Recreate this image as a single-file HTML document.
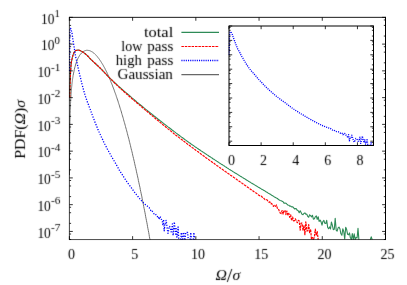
<!DOCTYPE html>
<html>
<head>
<meta charset="utf-8">
<title>PDF of vorticity</title>
<style>
html, body { margin: 0; padding: 0; background: #ffffff; }
body { width: 407px; height: 285px; overflow: hidden; font-family: "Liberation Serif", serif; }
svg { display: block; will-change: transform; }
svg text { font-family: "Liberation Serif", serif; fill: #000; }
</style>
</head>
<body>
<svg width="407" height="285" viewBox="0 0 407 285">
<defs><filter id="soft" x="0" y="0" width="407" height="285" filterUnits="userSpaceOnUse" color-interpolation-filters="sRGB"><feConvolveMatrix order="3" kernelMatrix="0.0113 0.0838 0.0113 0.0838 0.6196 0.0838 0.0113 0.0838 0.0113" divisor="1" edgeMode="duplicate" preserveAlpha="false"/></filter></defs>
<rect x="0" y="0" width="407" height="285" fill="#ffffff"/>
<g fill="none" stroke-width="1.2" stroke-linejoin="round">
<path d="M69.5 175.1 L69.5 159.0 L69.6 149.5 L69.6 142.9 L69.7 137.7 L69.7 133.4 L69.8 129.8 L69.8 126.7 L69.9 124.0 L69.9 121.6 L70.0 119.3 L70.0 117.3 L70.1 115.5 L70.1 113.7 L70.2 112.1 L70.2 110.7 L70.3 109.2 L70.3 107.9 L70.4 106.7 L70.4 105.5 L70.5 104.3 L70.5 103.3 L70.6 102.2 L70.6 101.3 L70.7 100.3 L70.7 99.4 L70.8 98.5 L70.8 97.7 L70.9 96.9 L70.9 96.1 L71.0 95.3 L71.0 94.6 L71.1 93.9 L71.1 93.2 L71.2 92.5 L71.2 91.9 L71.3 91.3 L71.3 90.7 L71.4 90.1 L71.4 89.5 L71.5 88.9 L71.5 88.4 L71.6 87.8 L71.6 87.3 L71.7 86.8 L71.7 86.3 L71.8 85.8 L71.8 85.3 L71.9 84.8 L71.9 84.4 L72.0 83.9 L72.0 83.5 L72.1 83.0 L72.1 82.6 L72.2 82.2 L72.2 81.8 L72.3 81.4 L72.3 81.0 L72.4 80.6 L72.4 80.2 L72.5 79.9 L72.5 79.5 L72.6 79.1 L72.6 78.8 L72.7 78.4 L72.7 78.1 L72.8 77.8 L72.8 77.4 L72.9 77.1 L72.9 76.8 L73.0 76.5 L73.0 76.1 L73.1 75.8 L73.1 75.5 L73.2 75.2 L73.6 73.1 L74.0 71.2 L74.3 69.5 L74.7 67.9 L75.1 66.5 L75.5 65.1 L75.8 63.9 L76.2 62.8 L76.6 61.7 L77.0 60.7 L77.4 59.8 L77.7 58.9 L78.1 58.1 L78.5 57.4 L78.9 56.7 L79.3 56.0 L79.6 55.4 L80.0 54.9 L80.4 54.4 L80.8 53.9 L81.2 53.4 L81.5 53.0 L81.9 52.7 L82.3 52.3 L82.7 52.0 L83.1 51.7 L83.4 51.5 L83.8 51.2 L84.2 51.0 L84.6 50.9 L85.0 50.7 L85.3 50.6 L85.7 50.5 L86.1 50.4 L86.5 50.3 L86.8 50.3 L87.2 50.3 L87.6 50.3 L88.0 50.3 L88.4 50.4 L88.7 50.5 L89.1 50.5 L89.5 50.6 L89.9 50.8 L90.3 50.9 L90.6 51.1 L91.0 51.3 L91.4 51.5 L91.8 51.7 L92.2 51.9 L92.5 52.1 L92.9 52.4 L93.3 52.7 L93.7 53.0 L94.1 53.3 L94.4 53.6 L94.8 54.0 L95.2 54.3 L95.6 54.7 L96.0 55.1 L96.3 55.5 L96.7 55.9 L97.1 56.4 L97.5 56.8 L97.8 57.3 L98.2 57.8 L98.6 58.3 L99.0 58.8 L99.4 59.3 L99.7 59.9 L100.1 60.4 L100.5 61.0 L100.9 61.6 L101.3 62.2 L101.6 62.8 L102.0 63.4 L102.4 64.0 L102.8 64.7 L103.2 65.3 L103.5 66.0 L103.9 66.7 L104.3 67.4 L104.7 68.1 L105.1 68.8 L105.4 69.6 L105.8 70.3 L106.2 71.1 L106.6 71.9 L107.0 72.7 L107.3 73.5 L107.7 74.3 L108.1 75.1 L108.5 76.0 L108.8 76.9 L109.2 77.7 L109.6 78.6 L110.0 79.5 L110.4 80.4 L110.7 81.3 L111.1 82.3 L111.5 83.2 L111.9 84.2 L112.3 85.1 L112.6 86.1 L113.0 87.1 L113.4 88.1 L113.8 89.1 L114.2 90.2 L114.5 91.2 L114.9 92.3 L115.3 93.3 L115.7 94.4 L116.1 95.5 L116.4 96.6 L116.8 97.7 L117.2 98.9 L117.6 100.0 L118.0 101.1 L118.3 102.3 L118.7 103.5 L119.1 104.7 L119.5 105.9 L119.8 107.1 L120.2 108.3 L120.6 109.5 L121.0 110.8 L121.4 112.0 L121.7 113.3 L122.1 114.6 L122.5 115.9 L122.9 117.2 L123.3 118.5 L123.6 119.8 L124.0 121.2 L124.4 122.5 L124.8 123.9 L125.2 125.3 L125.5 126.6 L125.9 128.0 L126.3 129.4 L126.7 130.9 L127.1 132.3 L127.4 133.7 L127.8 135.2 L128.2 136.7 L128.6 138.1 L129.0 139.6 L129.3 141.1 L129.7 142.6 L130.1 144.2 L130.5 145.7 L130.8 147.2 L131.2 148.8 L131.6 150.4 L132.0 151.9 L132.4 153.5 L132.7 155.1 L133.1 156.7 L133.5 158.4 L133.9 160.0 L134.3 161.7 L134.6 163.3 L135.0 165.0 L135.4 166.7 L135.8 168.4 L136.2 170.1 L136.5 171.8 L136.9 173.5 L137.3 175.2 L137.7 177.0 L138.1 178.7 L138.4 180.5 L138.8 182.3 L139.2 184.1 L139.6 185.9 L140.0 187.7 L140.3 189.5 L140.7 191.4 L141.1 193.2 L141.5 195.1 L141.9 196.9 L142.2 198.8 L142.6 200.7 L143.0 202.6 L143.4 204.5 L143.7 206.5 L144.1 208.4 L144.5 210.3 L144.9 212.3 L145.3 214.3 L145.6 216.3 L146.0 218.3 L146.4 220.3 L146.8 222.3 L147.2 224.3 L147.5 226.3 L147.9 228.4 L148.3 230.4 L148.7 232.5 L149.1 234.6 L149.4 236.7 L149.8 238.8 L150.2 239.6" stroke="#686868" stroke-width="0.95"/>
<path d="M69.8 97.6 L70.0 86.4 L70.3 78.5 L70.5 72.4 L70.8 68.2 L71.0 65.4 L71.3 63.1 L71.5 61.3 L71.8 59.9 L72.1 58.7 L72.3 57.6 L72.6 56.6 L72.8 55.7 L73.1 54.9 L73.3 54.2 L73.6 53.6 L73.8 53.1 L74.1 52.6 L74.3 52.1 L74.6 51.7 L74.8 51.4 L75.1 51.1 L75.3 50.8 L75.6 50.7 L75.8 50.6 L76.1 50.5 L76.4 50.4 L76.6 50.3 L76.9 50.3 L77.1 50.2 L77.4 50.2 L77.6 50.1 L77.9 50.1 L78.1 50.1 L78.4 50.1 L78.6 50.1 L78.9 50.2 L79.1 50.2 L79.4 50.3 L79.6 50.4 L79.9 50.5 L80.1 50.6 L80.4 50.7 L80.7 50.9 L80.9 51.0 L81.2 51.1 L81.4 51.3 L81.7 51.4 L81.9 51.5 L82.0 51.6 L83.0 52.1 L83.9 52.8 L84.9 53.5 L85.8 54.3 L86.8 55.1 L87.7 56.0 L88.7 57.0 L89.6 58.1 L90.6 59.1 L91.5 60.0 L92.5 60.9 L93.4 61.8 L94.4 62.7 L95.3 63.5 L96.3 64.4 L97.2 65.3 L98.2 66.2 L99.1 67.1 L100.1 68.0 L101.0 69.0 L102.0 69.9 L102.9 70.9 L103.9 71.9 L104.8 72.9 L105.8 73.9 L106.7 74.9 L107.6 75.9 L108.6 76.9 L109.5 77.8 L110.5 78.7 L111.4 79.6 L112.4 80.5 L113.3 81.4 L114.3 82.3 L115.2 83.2 L116.2 84.0 L117.1 84.9 L118.1 85.8 L119.0 86.6 L120.0 87.5 L120.9 88.3 L121.9 89.1 L122.8 90.0 L123.8 90.8 L124.7 91.6 L125.7 92.4 L126.6 93.2 L127.6 94.0 L128.5 94.8 L129.5 95.6 L130.4 96.4 L131.4 97.3 L132.3 98.1 L133.3 98.9 L134.2 99.7 L135.1 100.5 L136.1 101.3 L137.0 102.1 L138.0 102.9 L138.9 103.7 L139.9 104.5 L140.8 105.2 L141.8 106.0 L142.7 106.8 L143.7 107.6 L144.6 108.4 L145.6 109.1 L146.5 109.9 L147.5 110.7 L148.4 111.4 L149.4 112.2 L150.3 112.9 L151.3 113.7 L152.2 114.5 L153.2 115.2 L154.1 116.0 L155.1 116.7 L156.0 117.5 L157.0 118.2 L157.9 119.0 L158.9 119.7 L159.8 120.5 L160.8 121.2 L161.7 121.9 L162.6 122.7 L163.6 123.4 L164.5 124.2 L165.5 124.9 L166.4 125.6 L167.4 126.4 L168.3 127.1 L169.3 127.8 L170.2 128.5 L171.2 129.3 L172.1 130.0 L173.1 130.7 L174.0 131.4 L175.0 132.1 L175.9 132.9 L176.9 133.6 L177.8 134.3 L178.8 135.0 L179.7 135.7 L180.7 136.4 L181.6 137.1 L182.6 137.8 L183.5 138.5 L184.5 139.2 L185.4 139.9 L186.4 140.6 L187.3 141.3 L188.3 142.0 L189.2 142.6 L190.2 143.3 L191.1 144.0 L192.0 144.6 L193.0 145.3 L193.9 145.9 L194.9 146.6 L195.8 147.2 L196.8 147.9 L197.7 148.5 L198.7 149.2 L199.6 149.8 L200.6 150.5 L201.5 151.1 L202.5 151.7 L203.4 152.4 L204.4 153.0 L205.3 153.6 L206.3 154.3 L207.2 154.9 L208.2 155.5 L209.1 156.2 L210.1 156.8 L211.0 157.4 L212.0 158.0 L212.9 158.7 L213.9 159.3 L214.8 159.9 L215.8 160.5 L216.7 161.1 L217.7 161.7 L218.6 162.4 L219.5 163.0 L220.5 163.6 L221.4 164.2 L222.4 164.8 L223.3 165.4 L224.3 166.0 L225.2 166.6 L226.2 167.2 L227.1 167.9 L228.1 168.5 L229.0 169.1 L230.0 169.7 L230.9 170.3 L231.9 170.9 L232.8 171.5 L233.8 172.1 L234.7 172.7 L235.7 173.2 L236.6 173.8 L237.6 174.4 L238.5 175.0 L239.5 175.6 L240.4 176.2 L241.4 176.8 L242.3 177.4 L243.3 178.0 L244.2 178.6 L245.2 179.1 L246.1 179.7 L247.0 180.3 L248.0 180.9 L248.9 181.5 L249.9 182.0 L250.8 182.6 L251.8 183.2 L252.7 183.8 L253.7 184.3 L254.6 184.9 L255.6 185.5 L256.5 186.0 L257.5 186.6 L258.4 187.2 L259.4 187.7 L260.3 188.3 L261.3 188.9 L262.2 189.4 L263.2 190.0 L264.1 190.6 L265.1 191.1 L266.0 191.7 L267.0 192.3 L267.9 192.9 L268.9 193.4 L269.8 194.1 L270.8 194.6 L271.7 195.3 L272.7 195.8 L273.6 196.4 L274.5 197.0 L275.5 197.5 L276.4 198.1 L277.4 198.5 L278.3 199.3 L279.3 200.0 L280.2 200.4 L281.2 200.8 L282.1 201.2 L283.1 201.8 L284.0 203.1 L285.0 203.0 L285.9 203.2 L286.9 204.2 L287.8 205.0 L288.8 205.2 L289.7 206.1 L290.7 206.1 L291.6 206.9 L292.6 206.7 L293.5 207.7 L294.5 208.9 L295.4 208.6 L296.4 208.9 L297.3 210.4 L298.3 210.8 L299.2 212.8 L300.2 210.7 L301.1 212.4 L302.0 214.3 L303.0 214.6 L303.9 213.5 L304.9 212.9 L305.8 214.3 L306.8 214.1 L307.7 216.4 L308.7 217.2 L309.6 214.8 L310.6 215.7 L311.5 216.9 L312.5 215.3 L313.4 219.2 L314.4 218.8 L315.3 216.8 L316.3 215.8 L317.2 219.4 L318.2 216.7 L319.1 221.5 L320.1 220.1 L321.0 221.6 L322.0 225.1 L322.9 221.5 L323.9 220.3 L324.8 223.3 L325.8 223.5 L326.7 220.3 L327.7 227.5 L328.6 228.7 L329.6 226.9 L330.5 229.0 L331.4 222.0 L332.4 225.5 L333.3 229.6 L334.3 229.3 L335.2 218.3 L336.2 230.2 L337.1 231.2 L338.1 227.9 L339.0 227.1 L340.0 229.0 L340.9 233.8 L341.9 235.3 L342.8 228.7 L343.8 231.7 L344.7 238.9 L345.7 227.2 L346.6 229.3 L347.6 234.3 L348.5 234.8 L349.5 232.9 L350.4 237.8 L351.4 239.6 M351.4 239.6 L352.3 233.5 L353.3 239.6 M353.3 239.6 L354.2 233.9 L355.2 239.6 M355.2 239.6 L356.1 237.4 L357.1 238.0 L358.0 228.2 L358.9 239.6 M370.3 239.6 L371.2 236.8 L372.2 239.6" stroke="#2e8b57" stroke-width="1.1"/>
<path d="M69.8 97.6 L70.0 86.4 L70.3 78.5 L70.5 72.4 L70.8 68.2 L71.0 65.4 L71.3 63.1 L71.5 61.3 L71.8 59.9 L72.1 58.7 L72.3 57.6 L72.6 56.6 L72.8 55.7 L73.1 54.9 L73.3 54.2 L73.6 53.6 L73.8 53.1 L74.1 52.6 L74.3 52.1 L74.6 51.7 L74.8 51.4 L75.1 51.1 L75.3 50.8 L75.6 50.7 L75.8 50.6 L76.1 50.5 L76.4 50.4 L76.6 50.3 L76.9 50.3 L77.1 50.2 L77.4 50.2 L77.6 50.1 L77.9 50.1 L78.1 50.1 L78.4 50.1 L78.6 50.1 L78.9 50.2 L79.1 50.2 L79.4 50.3 L79.6 50.4 L79.9 50.5 L80.1 50.6 L80.4 50.7 L80.7 50.9 L80.9 51.0 L81.2 51.1 L81.4 51.3 L81.7 51.4 L81.9 51.5 L82.0 51.6 L83.0 52.1 L83.9 52.8 L84.9 53.5 L85.8 54.3 L86.8 55.1 L87.7 56.0 L88.7 57.0 L89.6 58.1 L90.6 59.1 L91.5 60.0 L92.5 60.9 L93.4 61.8 L94.4 62.7 L95.3 63.5 L96.3 64.4 L97.2 65.3 L98.2 66.2 L99.1 67.1 L100.1 68.0 L101.0 69.0 L102.0 69.9 L102.9 70.9 L103.9 71.9 L104.8 72.9 L105.8 73.9 L106.7 74.9 L107.6 75.9 L108.6 76.9 L109.5 77.8 L110.5 78.8 L111.4 79.7 L112.4 80.7 L113.3 81.6 L114.3 82.5 L115.2 83.5 L116.2 84.4 L117.1 85.3 L118.1 86.2 L119.0 87.1 L120.0 88.0 L120.9 88.9 L121.9 89.7 L122.8 90.6 L123.8 91.5 L124.7 92.3 L125.7 93.2 L126.6 94.0 L127.6 94.8 L128.5 95.7 L129.5 96.5 L130.4 97.3 L131.4 98.1 L132.3 99.0 L133.3 99.8 L134.2 100.6 L135.1 101.4 L136.1 102.2 L137.0 103.0 L138.0 103.8 L138.9 104.6 L139.9 105.4 L140.8 106.2 L141.8 107.0 L142.7 107.8 L143.7 108.6 L144.6 109.4 L145.6 110.2 L146.5 111.0 L147.5 111.8 L148.4 112.6 L149.4 113.4 L150.3 114.2 L151.3 115.0 L152.2 115.8 L153.2 116.6 L154.1 117.4 L155.1 118.2 L156.0 119.0 L157.0 119.8 L157.9 120.5 L158.9 121.3 L159.8 122.1 L160.8 122.9 L161.7 123.7 L162.6 124.5 L163.6 125.2 L164.5 126.0 L165.5 126.8 L166.4 127.6 L167.4 128.3 L168.3 129.1 L169.3 129.9 L170.2 130.6 L171.2 131.4 L172.1 132.1 L173.1 132.9 L174.0 133.7 L175.0 134.4 L175.9 135.2 L176.9 135.9 L177.8 136.6 L178.8 137.4 L179.7 138.1 L180.7 138.8 L181.6 139.6 L182.6 140.3 L183.5 141.0 L184.5 141.7 L185.4 142.4 L186.4 143.2 L187.3 143.9 L188.3 144.6 L189.2 145.3 L190.2 146.0 L191.1 146.7 L192.0 147.4 L193.0 148.1 L193.9 148.8 L194.9 149.5 L195.8 150.2 L196.8 150.9 L197.7 151.6 L198.7 152.3 L199.6 153.0 L200.6 153.7 L201.5 154.4 L202.5 155.1 L203.4 155.8 L204.4 156.5 L205.3 157.2 L206.3 157.9 L207.2 158.5 L208.2 159.2 L209.1 159.9 L210.1 160.6 L211.0 161.3 L212.0 162.0 L212.9 162.7 L213.9 163.3 L214.8 164.0 L215.8 164.7 L216.7 165.4 L217.7 166.1 L218.6 166.7 L219.5 167.4 L220.5 168.1 L221.4 168.8 L222.4 169.4 L223.3 170.1 L224.3 170.8 L225.2 171.5 L226.2 172.1 L227.1 172.8 L228.1 173.4 L229.0 174.1 L230.0 174.8 L230.9 175.4 L231.9 176.1 L232.8 176.7 L233.8 177.4 L234.7 178.1 L235.7 178.7 L236.6 179.4 L237.6 180.1 L238.5 180.7 L239.5 181.4 L240.4 182.1 L241.4 182.7 L242.3 183.4 L243.3 184.1 L244.2 184.7 L245.2 185.4 L246.1 186.1 L247.0 186.7 L248.0 187.4 L248.9 188.1 L249.9 188.8 L250.8 189.4 L251.8 190.1 L252.7 190.7 L253.7 191.5 L254.6 192.1 L255.6 192.7 L256.5 193.2 L257.5 194.1 L258.4 194.9 L259.4 195.5 L260.3 196.2 L261.3 196.2 L262.2 197.1 L263.2 197.6 L264.1 198.6 L265.1 199.7 L266.0 199.5 L267.0 199.8 L267.9 201.1 L268.9 202.1 L269.8 201.9 L270.8 203.7 L271.7 203.4 L272.7 205.4 L273.6 206.3 L274.5 205.4 L275.5 206.3 L276.4 205.0 L277.4 208.4 L278.3 208.6 L279.3 211.0 L280.2 212.9 L281.2 213.6 L282.1 210.5 L283.1 214.2 L284.0 210.5 L285.0 210.5 L285.9 214.6 L286.9 211.0 L287.8 214.9 L288.8 213.3 L289.7 217.3 L290.7 214.9 L291.6 220.8 L292.6 217.0 L293.5 220.9 L294.5 220.7 L295.4 218.8 L296.4 221.1 L297.3 222.7 L298.3 220.4 L299.2 220.7 L300.2 230.2 L301.1 223.0 L302.0 223.1 L303.0 230.1 L303.9 225.7 L304.9 234.6 L305.8 221.8 L306.8 230.9 L307.7 230.8 L308.7 224.5 L309.6 232.7 L310.6 229.1 L311.5 239.6 L312.5 237.6 L313.4 239.6 M313.4 239.6 L314.4 236.9 L315.3 229.2 L316.3 235.4 L317.2 231.6 L318.2 239.6" stroke="#ff0000" stroke-dasharray="2.5 0.9"/>
<path d="M69.6 70.9 L69.8 38.8 L70.0 29.1 L70.3 27.8 L70.5 28.1 L70.8 28.5 L71.0 29.2 L71.3 30.0 L71.5 31.0 L71.8 32.1 L72.1 33.5 L72.3 35.2 L72.6 37.0 L72.8 38.8 L73.1 40.6 L73.3 42.2 L73.6 43.8 L73.8 45.4 L74.1 46.9 L74.3 48.5 L74.6 50.0 L74.8 51.6 L75.1 53.2 L75.3 54.8 L75.6 56.3 L75.8 57.6 L76.1 58.9 L76.4 60.0 L76.6 61.1 L76.9 62.2 L77.1 63.3 L77.4 64.4 L77.6 65.5 L77.9 66.7 L78.1 67.8 L78.4 69.0 L78.6 70.1 L78.9 71.2 L79.1 72.4 L79.4 73.4 L79.6 74.5 L79.9 75.5 L80.1 76.6 L80.4 77.6 L80.7 78.7 L80.9 79.7 L81.2 80.7 L81.4 81.7 L81.7 82.7 L81.9 83.7 L82.0 84.2 L82.7 86.6 L83.3 89.0 L83.9 91.3 L84.6 93.5 L85.2 95.6 L85.8 97.6 L86.5 99.4 L87.1 101.2 L87.7 102.9 L88.4 104.5 L89.0 106.2 L89.6 107.8 L90.3 109.5 L90.9 111.3 L91.5 113.0 L92.2 114.8 L92.8 116.5 L93.4 118.2 L94.1 119.8 L94.7 121.4 L95.3 123.0 L96.0 124.6 L96.6 126.1 L97.2 127.6 L97.8 129.1 L98.5 130.5 L99.1 132.0 L99.7 133.4 L100.4 134.8 L101.0 136.2 L101.6 137.5 L102.3 138.8 L102.9 140.2 L103.5 141.5 L104.2 142.8 L104.8 144.1 L105.4 145.3 L106.1 146.6 L106.7 147.8 L107.3 149.0 L108.0 150.2 L108.6 151.3 L109.2 152.5 L109.9 153.6 L110.5 154.7 L111.1 155.8 L111.8 156.9 L112.4 158.0 L113.0 159.1 L113.7 160.1 L114.3 161.2 L114.9 162.3 L115.6 163.4 L116.2 164.5 L116.8 165.6 L117.4 166.8 L118.1 167.9 L118.7 169.0 L119.3 170.1 L120.0 171.1 L120.6 172.1 L121.2 173.1 L121.9 174.1 L122.5 175.1 L123.1 176.1 L123.8 177.1 L124.4 178.0 L125.0 179.0 L125.7 179.9 L126.3 180.8 L126.9 181.8 L127.6 182.7 L128.2 183.6 L128.8 184.5 L129.5 185.3 L130.1 186.2 L130.7 187.1 L131.4 187.9 L132.0 188.8 L132.6 189.6 L133.3 190.5 L133.9 191.3 L134.5 192.2 L135.1 193.0 L135.8 193.8 L136.4 194.6 L137.0 195.4 L137.7 196.2 L138.3 197.0 L138.9 197.8 L139.6 198.6 L140.2 199.3 L140.8 200.1 L141.5 200.8 L142.1 201.5 L142.7 202.1 L143.4 202.8 L144.0 203.4 L144.6 204.0 L145.3 204.6 L145.9 205.1 L146.5 205.7 L147.2 206.0 L147.8 206.7 L148.4 207.4 L149.1 207.7 L149.7 208.6 L150.3 209.6 L151.0 210.9 L151.6 210.4 L152.2 211.1 L152.9 211.9 L153.5 212.9 L154.1 213.9 L154.7 213.8 L155.4 213.8 L156.0 214.9 L156.6 215.5 L157.3 216.7 L157.9 216.0 L158.5 216.8 L159.2 219.5 L159.8 216.7 L160.4 217.1 L161.1 217.5 L161.7 220.8 L162.3 221.6 L163.0 225.4 L163.6 219.4 L164.2 230.8 L164.9 224.7 L165.5 225.1 L166.1 220.3 L166.8 224.7 L167.4 230.1 L168.0 233.4 L168.7 230.1 L169.3 226.2 L169.9 226.9 L170.6 228.8 L171.2 231.9 L171.8 229.9 L172.4 223.9 L173.1 235.6 L173.7 230.0 L174.3 221.9 L175.0 228.1 L175.6 234.1 L176.2 228.7 L176.9 237.1 L177.5 234.2 L178.1 227.0 L178.8 239.6 M180.7 239.6 L181.3 232.5 L181.9 239.6 M182.6 239.6 L183.2 232.5 L183.8 232.5 L184.5 239.6 M185.1 239.6 L185.7 232.5 L186.4 232.5 L187.0 232.5 L187.6 232.5 L188.3 239.6 M190.2 239.6 L190.8 232.5 L191.4 239.6 M193.3 239.6 L193.9 232.5 L194.6 239.6" stroke="#0000ff" stroke-dasharray="1.2 1.5" stroke-width="1.3"/>
<path d="M181.4 32.45 H219" stroke="#2e8b57"/>
<path d="M181.4 46.48 H219" stroke="#ff0000" stroke-dasharray="2.5 0.9"/>
<path d="M181.4 60.51 H219" stroke="#0000ff" stroke-dasharray="1.1 1.1" stroke-width="1.3"/>
<path d="M181.4 74.54 H219" stroke="#686868"/>
</g>
<rect x="229.0" y="26.0" width="144.5" height="119.5" fill="#ffffff"/>
<g fill="none" stroke-width="1.2" stroke-linejoin="round">
<path d="M229.2 54.8 L229.5 37.5 L229.8 32.3 L230.1 31.6 L230.4 31.8 L230.8 32.0 L231.1 32.4 L231.4 32.8 L231.7 33.4 L232.1 33.9 L232.4 34.7 L232.7 35.6 L233.0 36.6 L233.3 37.6 L233.7 38.5 L234.0 39.4 L234.3 40.2 L234.6 41.1 L234.9 41.9 L235.3 42.7 L235.6 43.6 L235.9 44.4 L236.2 45.3 L236.5 46.1 L236.9 46.9 L237.2 47.7 L237.5 48.3 L237.8 49.0 L238.2 49.6 L238.5 50.2 L238.8 50.7 L239.1 51.3 L239.4 51.9 L239.8 52.5 L240.1 53.1 L240.4 53.8 L240.7 54.4 L241.0 55.0 L241.4 55.6 L241.7 56.2 L242.0 56.8 L242.3 57.3 L242.6 57.9 L243.0 58.4 L243.3 59.0 L243.6 59.5 L243.9 60.1 L244.3 60.6 L244.6 61.2 L244.9 61.7 L245.1 62.0 L245.9 63.3 L246.7 64.6 L247.5 65.8 L248.3 67.0 L249.1 68.1 L249.9 69.2 L250.7 70.2 L251.5 71.1 L252.3 72.0 L253.1 72.9 L253.9 73.8 L254.7 74.7 L255.5 75.6 L256.3 76.5 L257.1 77.5 L257.9 78.4 L258.7 79.4 L259.5 80.3 L260.3 81.1 L261.1 82.0 L261.9 82.8 L262.7 83.7 L263.5 84.5 L264.3 85.3 L265.1 86.1 L265.9 86.9 L266.7 87.7 L267.5 88.4 L268.3 89.2 L269.1 89.9 L269.9 90.7 L270.7 91.4 L271.5 92.1 L272.4 92.8 L273.2 93.5 L274.0 94.2 L274.8 94.9 L275.6 95.5 L276.4 96.2 L277.2 96.8 L278.0 97.5 L278.8 98.1 L279.6 98.7 L280.4 99.3 L281.2 99.9 L282.0 100.5 L282.8 101.1 L283.6 101.7 L284.4 102.2 L285.2 102.8 L286.0 103.4 L286.8 104.0 L287.6 104.6 L288.4 105.2 L289.2 105.8 L290.0 106.4 L290.8 107.0 L291.6 107.6 L292.4 108.2 L293.2 108.7 L294.0 109.3 L294.8 109.8 L295.6 110.4 L296.4 110.9 L297.2 111.4 L298.0 111.9 L298.8 112.5 L299.6 113.0 L300.4 113.5 L301.3 114.0 L302.1 114.5 L302.9 114.9 L303.7 115.4 L304.5 115.9 L305.3 116.4 L306.1 116.9 L306.9 117.3 L307.7 117.8 L308.5 118.2 L309.3 118.7 L310.1 119.2 L310.9 119.6 L311.7 120.1 L312.5 120.5 L313.3 120.9 L314.1 121.4 L314.9 121.8 L315.7 122.3 L316.5 122.7 L317.3 123.1 L318.1 123.5 L318.9 123.9 L319.7 124.3 L320.5 124.7 L321.3 125.1 L322.1 125.4 L322.9 125.8 L323.7 126.1 L324.5 126.4 L325.3 126.7 L326.1 127.0 L326.9 127.3 L327.7 127.5 L328.5 127.9 L329.3 128.3 L330.2 128.4 L331.0 128.9 L331.8 129.4 L332.6 130.1 L333.4 129.9 L334.2 130.3 L335.0 130.6 L335.8 131.2 L336.6 131.7 L337.4 131.7 L338.2 131.7 L339.0 132.3 L339.8 132.6 L340.6 133.3 L341.4 132.9 L342.2 133.3 L343.0 134.8 L343.8 133.3 L344.6 133.5 L345.4 133.7 L346.2 135.4 L347.0 135.9 L347.8 137.9 L348.6 134.7 L349.4 140.8 L350.2 137.6 L351.0 137.8 L351.8 135.2 L352.6 137.6 L353.4 140.5 L354.2 142.2 L355.0 140.5 L355.8 138.4 L356.6 138.8 L357.4 139.8 L358.2 141.4 L359.1 140.3 L359.9 137.1 L360.7 143.4 L361.5 140.4 L362.3 136.1 L363.1 139.4 L363.9 142.6 L364.7 139.7 L365.5 144.2 L366.3 142.7 L367.1 138.8 L367.9 145.5 M370.3 145.5 L371.1 141.8 L371.9 145.5" stroke="#0000ff" stroke-dasharray="1.1 1.1" stroke-width="1.3"/>
</g>
<g fill="none" stroke="#000000" stroke-width="1">
<path d="M69.4 16.95 V239.95" stroke-width="0.75"/>
<path d="M69.00 17.35 H386.00" stroke-width="0.9"/>
<path d="M69.00 239.55 H386.00" stroke-width="0.7"/>
<path d="M385.5 16.95 V239.95" stroke-width="1"/>
<rect x="229.0" y="26.0" width="144.5" height="119.5"/>
</g>
<g fill="none" stroke="#000000" stroke-width="0.8">
<path d="M69.40 239.55 v-3.40 M69.40 17.35 v3.40 M132.62 239.55 v-3.40 M132.62 17.35 v3.40 M195.84 239.55 v-3.40 M195.84 17.35 v3.40 M259.06 239.55 v-3.40 M259.06 17.35 v3.40 M322.28 239.55 v-3.40 M322.28 17.35 v3.40 M385.50 239.55 v-3.40 M385.50 17.35 v3.40 M69.40 17.35 h3.40 M385.50 17.35 h-3.40 M69.40 44.11 h3.40 M385.50 44.11 h-3.40 M69.40 70.87 h3.40 M385.50 70.87 h-3.40 M69.40 97.63 h3.40 M385.50 97.63 h-3.40 M69.40 124.39 h3.40 M385.50 124.39 h-3.40 M69.40 151.15 h3.40 M385.50 151.15 h-3.40 M69.40 177.91 h3.40 M385.50 177.91 h-3.40 M69.40 204.67 h3.40 M385.50 204.67 h-3.40 M69.40 231.43 h3.40 M385.50 231.43 h-3.40 M69.40 36.05 h1.70 M385.50 36.05 h-1.70 M69.40 25.41 h1.70 M385.50 25.41 h-1.70 M69.40 19.94 h1.70 M385.50 19.94 h-1.70 M69.40 62.81 h1.70 M385.50 62.81 h-1.70 M69.40 52.17 h1.70 M385.50 52.17 h-1.70 M69.40 46.70 h1.70 M385.50 46.70 h-1.70 M69.40 89.57 h1.70 M385.50 89.57 h-1.70 M69.40 78.93 h1.70 M385.50 78.93 h-1.70 M69.40 73.46 h1.70 M385.50 73.46 h-1.70 M69.40 116.33 h1.70 M385.50 116.33 h-1.70 M69.40 105.69 h1.70 M385.50 105.69 h-1.70 M69.40 100.22 h1.70 M385.50 100.22 h-1.70 M69.40 143.09 h1.70 M385.50 143.09 h-1.70 M69.40 132.45 h1.70 M385.50 132.45 h-1.70 M69.40 126.98 h1.70 M385.50 126.98 h-1.70 M69.40 169.85 h1.70 M385.50 169.85 h-1.70 M69.40 159.21 h1.70 M385.50 159.21 h-1.70 M69.40 153.74 h1.70 M385.50 153.74 h-1.70 M69.40 196.61 h1.70 M385.50 196.61 h-1.70 M69.40 185.97 h1.70 M385.50 185.97 h-1.70 M69.40 180.50 h1.70 M385.50 180.50 h-1.70 M69.40 223.37 h1.70 M385.50 223.37 h-1.70 M69.40 212.73 h1.70 M385.50 212.73 h-1.70 M69.40 207.26 h1.70 M385.50 207.26 h-1.70 M69.40 239.49 h1.70 M385.50 239.49 h-1.70 M69.40 234.02 h1.70 M385.50 234.02 h-1.70"/>
<path d="M229.00 145.50 v-3.20 M229.00 26.00 v3.20 M261.11 145.50 v-3.20 M261.11 26.00 v3.20 M293.22 145.50 v-3.20 M293.22 26.00 v3.20 M325.33 145.50 v-3.20 M325.33 26.00 v3.20 M357.44 145.50 v-3.20 M357.44 26.00 v3.20 M229.00 26.00 h3.20 M373.50 26.00 h-3.20 M229.00 40.40 h3.20 M373.50 40.40 h-3.20 M229.00 54.80 h3.20 M373.50 54.80 h-3.20 M229.00 69.19 h3.20 M373.50 69.19 h-3.20 M229.00 83.59 h3.20 M373.50 83.59 h-3.20 M229.00 97.99 h3.20 M373.50 97.99 h-3.20 M229.00 112.39 h3.20 M373.50 112.39 h-3.20 M229.00 126.78 h3.20 M373.50 126.78 h-3.20 M229.00 141.18 h3.20 M373.50 141.18 h-3.20 M229.00 36.06 h1.60 M373.50 36.06 h-1.60 M229.00 30.33 h1.60 M373.50 30.33 h-1.60 M229.00 27.40 h1.60 M373.50 27.40 h-1.60 M229.00 50.46 h1.60 M373.50 50.46 h-1.60 M229.00 44.73 h1.60 M373.50 44.73 h-1.60 M229.00 41.79 h1.60 M373.50 41.79 h-1.60 M229.00 64.86 h1.60 M373.50 64.86 h-1.60 M229.00 59.13 h1.60 M373.50 59.13 h-1.60 M229.00 56.19 h1.60 M373.50 56.19 h-1.60 M229.00 79.26 h1.60 M373.50 79.26 h-1.60 M229.00 73.53 h1.60 M373.50 73.53 h-1.60 M229.00 70.59 h1.60 M373.50 70.59 h-1.60 M229.00 93.65 h1.60 M373.50 93.65 h-1.60 M229.00 87.92 h1.60 M373.50 87.92 h-1.60 M229.00 84.99 h1.60 M373.50 84.99 h-1.60 M229.00 108.05 h1.60 M373.50 108.05 h-1.60 M229.00 102.32 h1.60 M373.50 102.32 h-1.60 M229.00 99.38 h1.60 M373.50 99.38 h-1.60 M229.00 122.45 h1.60 M373.50 122.45 h-1.60 M229.00 116.72 h1.60 M373.50 116.72 h-1.60 M229.00 113.78 h1.60 M373.50 113.78 h-1.60 M229.00 136.85 h1.60 M373.50 136.85 h-1.60 M229.00 131.12 h1.60 M373.50 131.12 h-1.60 M229.00 128.18 h1.60 M373.50 128.18 h-1.60 M229.00 145.51 h1.60 M373.50 145.51 h-1.60 M229.00 142.58 h1.60 M373.50 142.58 h-1.60"/>
</g>
<g filter="url(#soft)">
<text x="41.0" y="23.6" text-anchor="start" font-size="13.6" textLength="13.4" lengthAdjust="spacingAndGlyphs">10</text>
<text x="54.4" y="17.0" text-anchor="start" font-size="9.8" textLength="5.4" lengthAdjust="spacingAndGlyphs">1</text>
<text x="41.0" y="50.3" text-anchor="start" font-size="13.6" textLength="13.4" lengthAdjust="spacingAndGlyphs">10</text>
<text x="54.4" y="43.7" text-anchor="start" font-size="9.8" textLength="5.4" lengthAdjust="spacingAndGlyphs">0</text>
<text x="37.4" y="77.1" text-anchor="start" font-size="13.6" textLength="13.4" lengthAdjust="spacingAndGlyphs">10</text>
<text x="50.9" y="70.5" text-anchor="start" font-size="9.8" textLength="9.4" lengthAdjust="spacingAndGlyphs">-1</text>
<text x="37.4" y="103.8" text-anchor="start" font-size="13.6" textLength="13.4" lengthAdjust="spacingAndGlyphs">10</text>
<text x="50.9" y="97.2" text-anchor="start" font-size="9.8" textLength="9.4" lengthAdjust="spacingAndGlyphs">-2</text>
<text x="37.4" y="130.6" text-anchor="start" font-size="13.6" textLength="13.4" lengthAdjust="spacingAndGlyphs">10</text>
<text x="50.9" y="124.0" text-anchor="start" font-size="9.8" textLength="9.4" lengthAdjust="spacingAndGlyphs">-3</text>
<text x="37.4" y="157.3" text-anchor="start" font-size="13.6" textLength="13.4" lengthAdjust="spacingAndGlyphs">10</text>
<text x="50.9" y="150.8" text-anchor="start" font-size="9.8" textLength="9.4" lengthAdjust="spacingAndGlyphs">-4</text>
<text x="37.4" y="184.1" text-anchor="start" font-size="13.6" textLength="13.4" lengthAdjust="spacingAndGlyphs">10</text>
<text x="50.9" y="177.5" text-anchor="start" font-size="9.8" textLength="9.4" lengthAdjust="spacingAndGlyphs">-5</text>
<text x="37.4" y="210.9" text-anchor="start" font-size="13.6" textLength="13.4" lengthAdjust="spacingAndGlyphs">10</text>
<text x="50.9" y="204.3" text-anchor="start" font-size="9.8" textLength="9.4" lengthAdjust="spacingAndGlyphs">-6</text>
<text x="37.4" y="237.6" text-anchor="start" font-size="13.6" textLength="13.4" lengthAdjust="spacingAndGlyphs">10</text>
<text x="50.9" y="231.0" text-anchor="start" font-size="9.8" textLength="9.4" lengthAdjust="spacingAndGlyphs">-7</text>
<text x="71.5" y="258.9" text-anchor="middle" font-size="13.6" textLength="7.0" lengthAdjust="spacingAndGlyphs">0</text>
<text x="134.7" y="258.9" text-anchor="middle" font-size="13.6" textLength="7.0" lengthAdjust="spacingAndGlyphs">5</text>
<text x="197.9" y="258.9" text-anchor="middle" font-size="13.6" textLength="14.0" lengthAdjust="spacingAndGlyphs">10</text>
<text x="261.2" y="258.9" text-anchor="middle" font-size="13.6" textLength="14.0" lengthAdjust="spacingAndGlyphs">15</text>
<text x="324.4" y="258.9" text-anchor="middle" font-size="13.6" textLength="14.0" lengthAdjust="spacingAndGlyphs">20</text>
<text x="387.6" y="258.9" text-anchor="middle" font-size="13.6" textLength="14.0" lengthAdjust="spacingAndGlyphs">25</text>
<text x="231.5" y="164.6" text-anchor="middle" font-size="13.6" textLength="7.0" lengthAdjust="spacingAndGlyphs">0</text>
<text x="263.6" y="164.6" text-anchor="middle" font-size="13.6" textLength="7.0" lengthAdjust="spacingAndGlyphs">2</text>
<text x="295.7" y="164.6" text-anchor="middle" font-size="13.6" textLength="7.0" lengthAdjust="spacingAndGlyphs">4</text>
<text x="327.8" y="164.6" text-anchor="middle" font-size="13.6" textLength="7.0" lengthAdjust="spacingAndGlyphs">6</text>
<text x="359.9" y="164.6" text-anchor="middle" font-size="13.6" textLength="7.0" lengthAdjust="spacingAndGlyphs">8</text>
<text x="144.0" y="36.7" text-anchor="start" font-size="14.5" textLength="29.2" lengthAdjust="spacingAndGlyphs">total</text>
<text x="121.3" y="50.7" text-anchor="start" font-size="14.5" textLength="21.0" lengthAdjust="spacingAndGlyphs">low</text>
<text x="147.3" y="50.7" text-anchor="start" font-size="14.5" textLength="26.0" lengthAdjust="spacingAndGlyphs">pass</text>
<text x="115.8" y="64.7" text-anchor="start" font-size="14.5" textLength="26.0" lengthAdjust="spacingAndGlyphs">high</text>
<text x="147.3" y="64.7" text-anchor="start" font-size="14.5" textLength="26.0" lengthAdjust="spacingAndGlyphs">pass</text>
<text x="117.5" y="78.7" text-anchor="start" font-size="14.5" textLength="55.4" lengthAdjust="spacingAndGlyphs">Gaussian</text>
<text x="215.4" y="279.6" text-anchor="start" font-size="14.5" textLength="24.8" lengthAdjust="spacingAndGlyphs"><tspan font-style="italic">&#937;</tspan><tspan font-size="18.5" dy="2.2">/</tspan><tspan font-style="italic" dy="-2.2">&#963;</tspan></text>
<text x="0.0" y="0.0" text-anchor="start" font-size="14.5" textLength="59.0" lengthAdjust="spacingAndGlyphs" transform="translate(25.4 158.8) rotate(-90)">PDF(<tspan font-style="italic">&#937;</tspan>)<tspan font-style="italic">&#963;</tspan></text>
</g>
</svg>
</body>
</html>
